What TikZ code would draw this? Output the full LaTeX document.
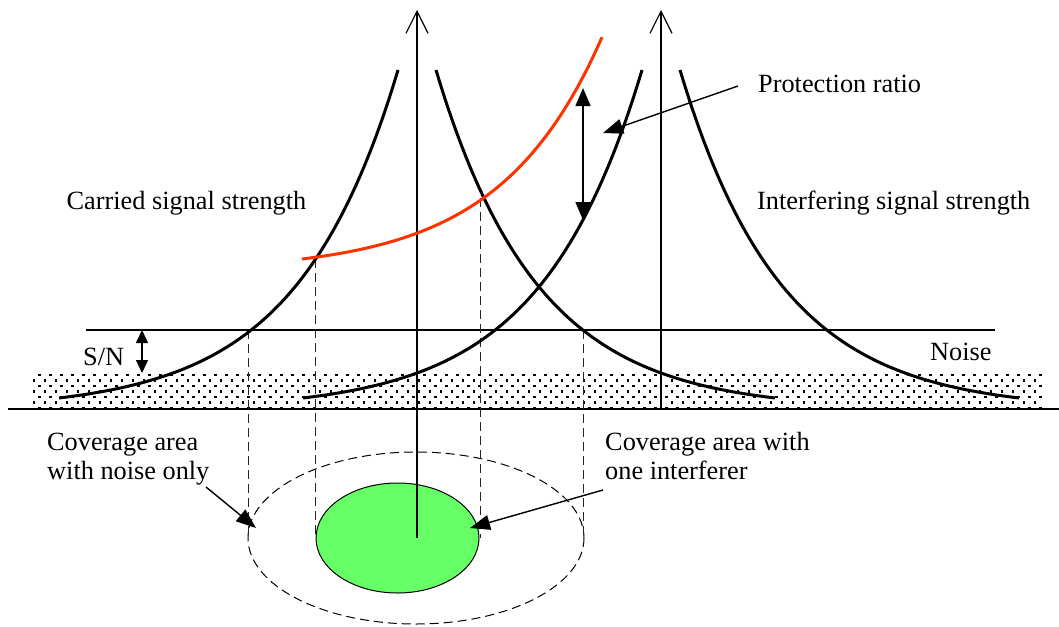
\documentclass[tikz,border=0pt]{standalone}
\usepackage{fontspec}
\setmainfont{Liberation Serif}
\usetikzlibrary{arrows.meta}
\definecolor{redcurve}{HTML}{FF3300}
\definecolor{greenarea}{HTML}{66FF66}
\tikzset{
  lbl/.style={anchor=base west, inner sep=0pt, font=\fontsize{26.3}{29}\selectfont},
  thinline/.style={line width=1.2pt},
  curve/.style={line width=3pt},
  dashv/.style={line width=1pt, dash pattern=on 9pt off 5pt, black!85},
  axisarrow/.style={line width=1.2pt, -{Straight Barb[length=22pt,width=22pt,line width=1.2pt]}},
  bigarrow/.style={line width=1.4pt, {Triangle[length=18pt,width=15pt]}-{Triangle[length=18pt,width=15pt]}},
  smallarrow/.style={line width=1.4pt, {Triangle[length=13pt,width=12pt]}-{Triangle[length=13pt,width=12pt]}},
  pointer/.style={line width=1.4pt, -{Triangle[length=20pt,width=15pt]}}
}
\begin{document}
\begin{tikzpicture}[x=1pt,y=-1pt]
\useasboundingbox (0,0) rectangle (1059,626);
% dotted noise band
\foreach \i in {0,...,6}{
  \pgfmathsetmacro\yy{375+5.5*\i}
  \pgfmathsetmacro\xs{39.5-5.5*mod(\i,2)}
  \foreach \k in {0,...,91}{
    \fill ({\xs+11*\k-1.3},{\yy-1.3}) rectangle ++(2.6,2.6);
  }
}
% coordinates
\coordinate (base-l) at (8,409);
\coordinate (base-r) at (1059,409);
\coordinate (noise-l) at (86,330);
\coordinate (noise-r) at (995,330);
\coordinate (sn-top) at (142,330);
\coordinate (sn-bot) at (142,373);
\coordinate (pr-top) at (583,88);
\coordinate (pr-bot) at (583,220);
\coordinate (axL-bot) at (417,538);
\coordinate (axL-top) at (417,10);
\coordinate (axR-bot) at (661,409);
\coordinate (axR-top) at (661,10);
\coordinate (d1-top) at (248,330);
\coordinate (d1-bot) at (248,538);
\coordinate (d2-top) at (315,259);
\coordinate (d2-bot) at (315,538);
\coordinate (d3-top) at (480,198);
\coordinate (d3-bot) at (480,538);
\coordinate (d4-top) at (583,330);
\coordinate (d4-bot) at (583,538);
% horizontal lines
\draw[thinline] (base-l) -- (base-r);
\draw[thinline] (noise-l) -- (noise-r);
% ellipses
\draw[line width=1pt, dash pattern=on 9pt off 5pt] (416,538) ellipse [x radius=168, y radius=86];
\draw[line width=1pt, fill=greenarea] (397.5,538) ellipse [x radius=81.5, y radius=55];
% dashed verticals
\draw[dashv] (d1-top) -- (d1-bot);
\draw[dashv] (d2-top) -- (d2-bot);
\draw[dashv] (d3-top) -- (d3-bot);
\draw[dashv] (d4-top) -- (d4-bot);
% axes
\draw[axisarrow] (axL-bot) -- (axL-top);
\draw[axisarrow] (axR-bot) -- (axR-top);
% signal curves
\draw[curve] plot[domain=19:358, samples=90, smooth] ({417-\x},{410-340*exp(-0.00986*(\x-19))});
\draw[curve] plot[domain=19:358, samples=90, smooth] ({417+\x},{410-340*exp(-0.00986*(\x-19))});
\draw[curve] plot[domain=19:358, samples=90, smooth] ({661-\x},{410-340*exp(-0.00986*(\x-19))});
\draw[curve] plot[domain=19:358, samples=90, smooth] ({661+\x},{410-340*exp(-0.00986*(\x-19))});
% protection ratio curve
\draw[curve, redcurve] plot[domain=302:602, samples=80, smooth] (\x,{259-12.4*(exp(0.0098*(\x-302))-1)});
% double arrows
\draw[smallarrow] (sn-top) -- (sn-bot);
\draw[bigarrow] (pr-top) -- (pr-bot);
% labels
\node[lbl] (carried) at (66.5,209) {Carried signal strength};
\node[lbl] (interf) at (757,209) {Interfering signal strength};
\node[lbl] (prot) at (758,92) {Protection ratio};
\node[lbl] (noise) at (930,360) {Noise};
\node[lbl] (sn) at (83,365) {S/N};
\node[lbl] (cov1a) at (47,450) {Coverage area};
\node[lbl] (cov1b) at (47,479) {with noise only};
\node[lbl] (cov2a) at (605,450) {Coverage area with};
\node[lbl] (cov2b) at (605,479) {one interferer};
% pointers
\coordinate (p1s) at (738,86);
\coordinate (p1e) at (603,133);
\coordinate (p2s) at (206,487);
\coordinate (p2e) at (256,528);
\coordinate (p3s) at (603,490);
\coordinate (p3e) at (470,528);
\draw[pointer] (p1s) -- (p1e);
\draw[pointer] (p2s) -- (p2e);
\draw[pointer] (p3s) -- (p3e);
\end{tikzpicture}
\end{document}
